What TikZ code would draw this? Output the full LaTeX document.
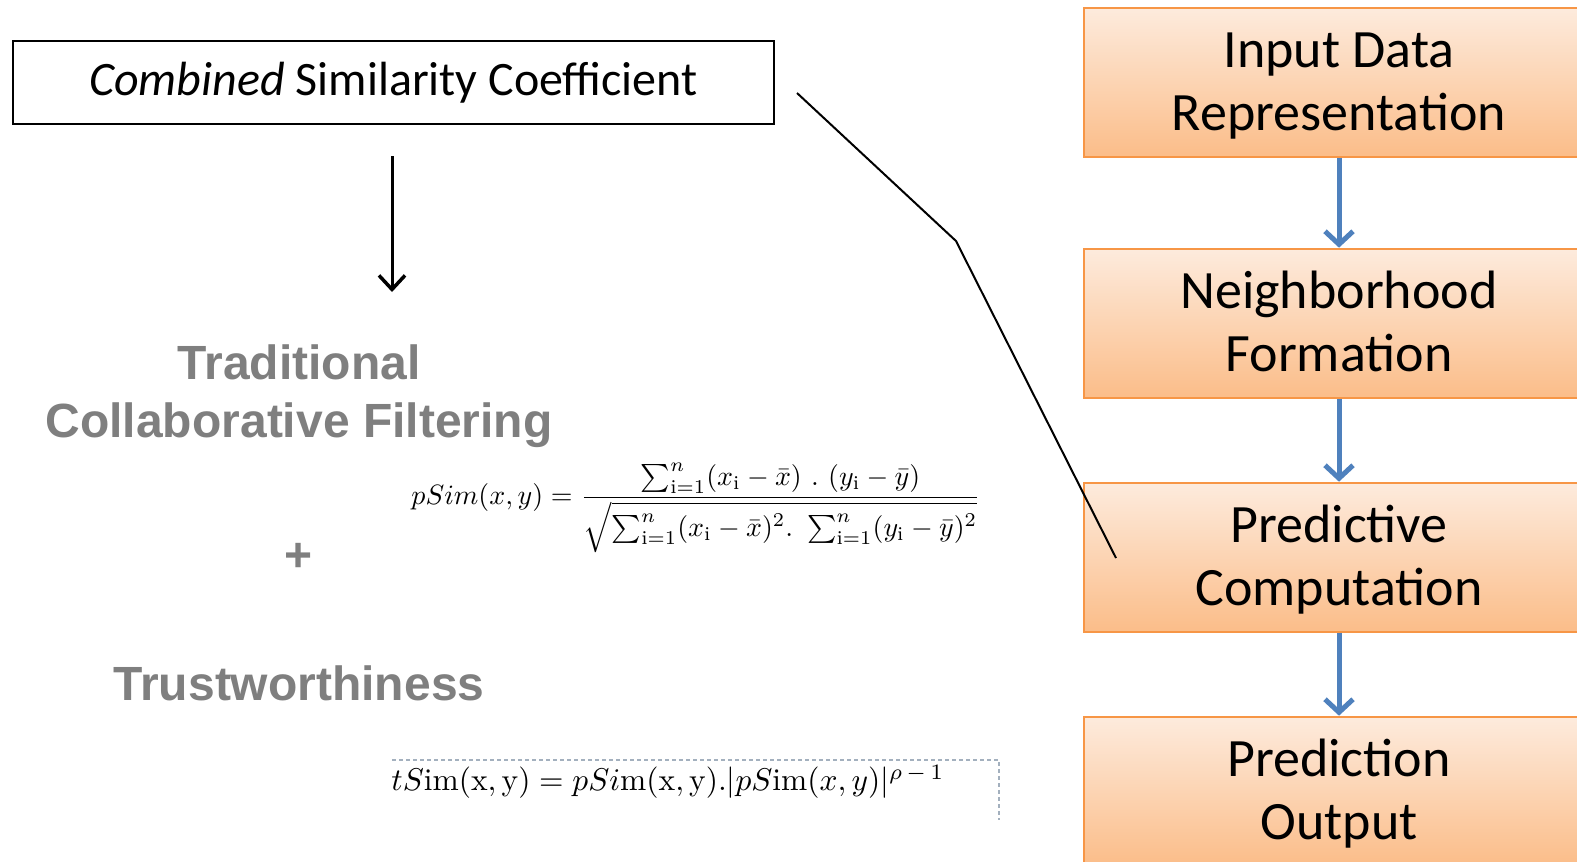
\documentclass[tikz,border=0pt]{standalone}
\usepackage{amsmath}
\usepackage{fontspec}
\usepackage{graphicx}
\usetikzlibrary{arrows.meta}
\newfontfamily\calibri{Carlito}
\newfontfamily\arialf{Liberation Sans}
\definecolor{orangeborder}{HTML}{F79646}
\definecolor{orangetop}{HTML}{FDEBDD}
\definecolor{orangebot}{HTML}{FBBD89}
\definecolor{arrowblue}{HTML}{4F81BD}
\definecolor{textgray}{HTML}{7F7F7F}
\definecolor{framecol}{HTML}{A3B0BE}
\newcommand{\toprl}{\rule{0pt}{48pt}}
\newcommand{\botrl}{\rule[-14pt]{0pt}{14pt}}
\begin{document}
\begin{tikzpicture}[x=1pt,y=-1pt,
  flow/.style={draw=orangeborder, line width=2pt, top color=orangetop, bottom color=orangebot,
    minimum width=510pt, minimum height=149pt, inner sep=0pt, anchor=north west, align=center,
    font=\calibri\fontsize{54}{63}\selectfont},
  bluearrow/.style={draw=arrowblue, line width=5pt,
    -{Straight Barb[length=13pt,width=28pt,line width=5pt]}},
  blackarrow/.style={draw=black, line width=3pt,
    -{Straight Barb[length=14pt,width=26pt,line width=3.5pt]}},
  graytext/.style={text=textgray, font=\arialf\bfseries\fontsize{48}{58}\selectfont, align=center, inner sep=0pt},
  titlebox/.style={draw=black, line width=2pt, minimum width=761pt, minimum height=83pt, inner sep=0pt,
    anchor=north west, font=\calibri\fontsize{48}{58}\selectfont},
  formula/.style={inner sep=0pt, text=black},
  framedash/.style={draw=framecol, line width=1.5pt, dash pattern=on 4pt off 3pt}
]
\clip (0,0) rectangle (1577,862);
\fill[white] (0,0) rectangle (1577,862);

% flow boxes
\node[flow] (b1) at (1083,6.7) {\toprl Input Data\\Representation\botrl};
\node[flow] (b2) at (1083,247.7) {\toprl Neighborhood\\Formation\botrl};
\node[flow] (b3) at (1083,481.7) {\toprl Predictive\\Computation\botrl};
\node[flow] (b4) at (1083,715.7) {\toprl Prediction\\Output\botrl};
\draw[bluearrow] (b1.south) -- (b2.north);
\draw[bluearrow] (b2.south) -- (b3.north);
\draw[bluearrow] (b3.south) -- (b4.north);

% title box
\node[titlebox] (comb) at (12,40) {\textit{Combined} Similarity Coefficient};
\coordinate (a1) at (392,156);
\coordinate (a2) at (392,292);
\draw[blackarrow] (a1) -- (a2);

% diagonal callout line
\coordinate (d1) at (797,93);
\coordinate (d2) at (956,241);
\coordinate (d3) at (1116,558);
\draw[line width=2pt] (d1) -- (d2) -- (d3);

% gray texts
\node[graytext] (trad) at (299,396) {Traditional\\Collaborative Filtering};
\node[graytext] (plus) at (299,557) {+};
\node[graytext] (trust) at (299,683) {Trustworthiness};

% formulas
\node[formula] (psim) at (696,508) {\resizebox{569pt}{!}{$pSim(x,y) = \dfrac{\textstyle\sum_{\mathrm{i}=1}^{n}(x_{\mathrm{i}}-\bar{x})\ .\ (y_{\mathrm{i}}-\bar{y})}{\sqrt{\textstyle\sum_{\mathrm{i}=1}^{n}(x_{\mathrm{i}}-\bar{x})^2.\ \sum_{\mathrm{i}=1}^{n}(y_{\mathrm{i}}-\bar{y})^2}}$}};
\node[formula] (tsim) at (668,782) {\resizebox{553pt}{!}{$tS\mathrm{im}(\mathrm{x,y}) = pSi\mathrm{m}(\mathrm{x,y}).|pS\mathrm{im}(x,y)|^{\rho\,-\,1}$}};

% dashed frame
\coordinate (f1) at (392,760);
\coordinate (f2) at (999,760);
\coordinate (f3) at (999,820);
\draw[framedash] (f1) -- (f2) -- (f3);
\end{tikzpicture}
\end{document}
